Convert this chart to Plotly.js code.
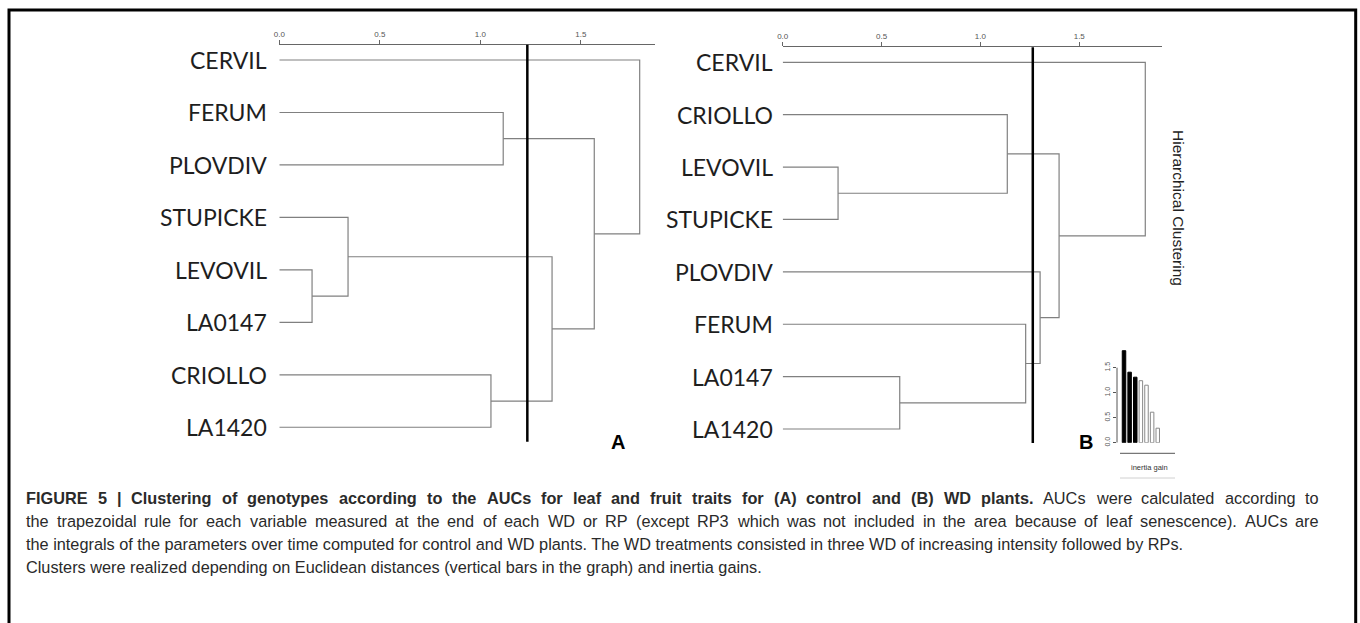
<!DOCTYPE html>
<html><head><meta charset="utf-8">
<script src="https://cdn.plot.ly/plotly-3.0.1.min.js"></script>
<style>html,body{margin:0;padding:0;background:#fff;} #chart{width:1360px;height:623px;}</style>
</head><body><div id="chart"></div>
<script>
// ---------- Panel A (control) ----------
const leavesA = ['CERVIL','FERUM','PLOVDIV','STUPICKE','LEVOVIL','LA0147','CRIOLLO','LA1420'];
// merge table (R style): negative = leaf (1-based, display order), positive = earlier merge
const mergeA_left   = [-5, -4, -7, -2, 2, 4, -1];
const mergeA_right  = [-6,  1, -8, -3, 3, 5,  6];
const mergeA_height = [0.163, 0.342, 1.053, 1.114, 1.357, 1.567, 1.793];
const cutA = 1.234;

// ---------- Panel B (WD) ----------
const leavesB = ['CERVIL','CRIOLLO','LEVOVIL','STUPICKE','PLOVDIV','FERUM','LA0147','LA1420'];
const mergeB_left   = [-3, -7, -2, -6, -5, 3, -1];
const mergeB_right  = [-4, -8,  1,  2,  4, 5,  6];
const mergeB_height = [0.280, 0.592, 1.136, 1.229, 1.302, 1.398, 1.834];
const cutB = 1.265;

// ---------- Inset: inertia gain (panel B) ----------
const inertiaRank = [1, 2, 3, 4, 5, 6, 7];
const inertiaGain = [1.84, 1.41, 1.31, 1.24, 1.15, 0.61, 0.29];
const inertiaHighlighted = [true, true, true, false, false, false, false];

const axisTickVals = [0, 0.5, 1.0, 1.5];
const axisTickText = ['0.0', '0.5', '1.0', '1.5'];

// caption lines
const captionBold = ['FIGURE 5 | Clustering of genotypes according to the AUCs for leaf and fruit traits for (A) control and (B) WD plants.', '', '', ''];
const captionText = [
  'AUCs were calculated according to',
  'the trapezoidal rule for each variable measured at the end of each WD or RP (except RP3 which was not included in the area because of leaf senescence). AUCs are',
  'the integrals of the parameters over time computed for control and WD plants. The WD treatments consisted in three WD of increasing intensity followed by RPs.',
  'Clusters were realized depending on Euclidean distances (vertical bars in the graph) and inertia gains.'
];
const captionJustify = [true, true, false, false];

// ---------- helpers ----------
const W = 1360, H = 623;
const px = x => x / W;
const py = y => 1 - y / H;

function dendro(left, right, height) {
  const pos = {};
  const xs = [], ys = [];
  const node = id => id < 0 ? {x: 0, y: -id - 1} : pos[id];
  for (let i = 0; i < height.length; i++) {
    const a = node(left[i]), b = node(right[i]), h = height[i];
    xs.push(a.x, h, h, b.x, null);
    ys.push(a.y, a.y, b.y, b.y, null);
    pos[i + 1] = {x: h, y: (a.y + b.y) / 2};
  }
  return {xs, ys};
}

const dA = dendro(mergeA_left, mergeA_right, mergeA_height);
const dB = dendro(mergeB_left, mergeB_right, mergeB_height);

const treeLine = {color: '#808080', width: 1.2};

const traces = [
  {type: 'scatter', mode: 'lines', x: dA.xs, y: dA.ys, xaxis: 'x', yaxis: 'y',
   line: treeLine, hoverinfo: 'skip', showlegend: false, cliponaxis: false},
  {type: 'scatter', mode: 'lines', x: dB.xs, y: dB.ys, xaxis: 'x2', yaxis: 'y2',
   line: treeLine, hoverinfo: 'skip', showlegend: false, cliponaxis: false},
  {type: 'bar', x: inertiaRank, y: inertiaGain, xaxis: 'x3', yaxis: 'y3', width: 0.62,
   marker: {color: inertiaHighlighted.map(h => h ? '#000000' : '#ffffff'),
            line: {color: inertiaHighlighted.map(h => h ? '#000000' : '#8a8a8a'), width: 1}},
   hoverinfo: 'skip', showlegend: false}
];

const topAxis = (domain, range, anchor) => ({
  domain, range, anchor, side: 'top',
  tickvals: axisTickVals, ticktext: axisTickText,
  ticks: 'outside', ticklen: 4, tickwidth: 1, tickcolor: '#666',
  tickfont: {family: 'Liberation Sans, Arial, sans-serif', size: 8, color: '#555'},
  showline: true, linecolor: '#666', linewidth: 1,
  showgrid: false, zeroline: false, fixedrange: true
});
const hiddenY = (domain, range) => ({
  domain, range, showline: false, showticklabels: false, ticks: '',
  showgrid: false, zeroline: false, fixedrange: true
});

const annotations = [];
const labelFont = {family: 'Lato, "Open Sans", sans-serif', size: 23, color: '#1e1e1e'};
leavesA.forEach((name, i) => annotations.push({
  text: name, xref: 'paper', x: px(268), xanchor: 'right', yref: 'y', y: i, yanchor: 'middle',
  showarrow: false, font: labelFont, borderpad: 0
}));
leavesB.forEach((name, i) => annotations.push({
  text: name, xref: 'paper', x: px(774), xanchor: 'right', yref: 'y2', y: i, yanchor: 'middle',
  showarrow: false, font: labelFont, borderpad: 0
}));
annotations.push(
  {text: '<b>A</b>', xref: 'paper', yref: 'paper', x: px(617.5), y: py(441.5), xanchor: 'center', yanchor: 'middle',
   showarrow: false, font: {family: 'Liberation Sans, Arial, sans-serif', size: 20, color: '#000'}},
  {text: '<b>B</b>', xref: 'paper', yref: 'paper', x: px(1086), y: py(442), xanchor: 'center', yanchor: 'middle',
   showarrow: false, font: {family: 'Liberation Sans, Arial, sans-serif', size: 20, color: '#000'}},
  {text: 'Hierarchical Clustering', xref: 'paper', yref: 'paper', x: px(1178), y: py(208), textangle: 90,
   xanchor: 'center', yanchor: 'middle', showarrow: false,
   font: {family: 'Liberation Sans, Arial, sans-serif', size: 15.5, color: '#222'}},
  {text: 'inertia gain', xref: 'paper', yref: 'paper', x: px(1149), y: py(467), xanchor: 'center', yanchor: 'middle',
   showarrow: false, font: {family: 'Liberation Sans, Arial, sans-serif', size: 7.5, color: '#333'}}
);

// caption with justified lines (word positions measured with canvas)
const capFamily = 'Liberation Sans';
const capSize = 16.3;
const capLeft = 25, capRight = 1318;
const capY = [498, 521, 544, 567];
const ctx = document.createElement('canvas').getContext('2d');
function wordWidth(w, bold) {
  ctx.font = (bold ? 'bold ' : '') + capSize + 'px "' + capFamily + '"';
  return ctx.measureText(w).width;
}
captionText.forEach((t, i) => {
  const words = [];
  if (captionBold[i]) captionBold[i].split(' ').forEach(w => words.push({w, b: true}));
  t.split(' ').forEach(w => words.push({w, b: false}));
  const capFont = {family: capFamily + ', Arial, sans-serif', size: capSize, color: '#2a2a2a'};
  if (!captionJustify[i]) {
    annotations.push({text: (captionBold[i] ? '<b>' + captionBold[i] + '</b> ' : '') + t,
      xref: 'paper', yref: 'paper', x: px(capLeft), y: py(capY[i]), xanchor: 'left', yanchor: 'middle',
      showarrow: false, align: 'left', font: capFont, borderpad: 0});
    return;
  }
  const widths = words.map(o => wordWidth(o.w, o.b));
  const total = widths.reduce((a, b) => a + b, 0);
  const gap = (capRight - capLeft - total) / (words.length - 1);
  let x = capLeft;
  words.forEach((o, k) => {
    annotations.push({text: o.b ? '<b>' + o.w + '</b>' : o.w,
      xref: 'paper', yref: 'paper', x: px(x), y: py(capY[i]), xanchor: 'left', yanchor: 'middle',
      showarrow: false, font: capFont, borderpad: 0});
    x += widths[k] + gap;
  });
});

const shapes = [
  {type: 'line', xref: 'x', yref: 'y domain', x0: cutA, x1: cutA, y0: 0, y1: 1, line: {color: '#000', width: 2.5}},
  {type: 'line', xref: 'x2', yref: 'y2 domain', x0: cutB, x1: cutB, y0: 0, y1: 1, line: {color: '#000', width: 2.5}},
  {type: 'line', xref: 'x3 domain', yref: 'y3', x0: 0, x1: 0, y0: 0, y1: 1.5, line: {color: '#555', width: 1}},
  {type: 'line', xref: 'paper', yref: 'paper', x0: px(1120), x1: px(1175), y0: py(453.3), y1: py(453.3), line: {color: '#777', width: 1.2}},
  {type: 'line', xref: 'paper', yref: 'paper', x0: px(1120), x1: px(1175), y0: py(478), y1: py(478), line: {color: '#d0d0d0', width: 1}},
  {type: 'rect', xref: 'paper', yref: 'paper', x0: px(9), x1: px(1355.7), y0: py(660), y1: py(10),
   line: {color: '#000', width: 3}, fillcolor: 'rgba(0,0,0,0)'}
];

const layout = {
  width: W, height: H, margin: {l: 0, r: 0, t: 0, b: 0},
  paper_bgcolor: '#fff', plot_bgcolor: 'rgba(0,0,0,0)', showlegend: false,
  xaxis:  topAxis([px(279.3), px(655)], [0, (655 - 279.3) / 201], 'y'),
  yaxis:  hiddenY([py(441.7), py(44.7)], [7.275, -0.292]),
  xaxis2: topAxis([px(782.7), px(1162)], [0, (1162 - 782.7) / 197.7], 'y2'),
  yaxis2: hiddenY([py(443), py(47.3)], [7.267, -0.286]),
  xaxis3: {domain: [px(1117), px(1175)], range: [-0.246, 10.07], anchor: 'y3', visible: false, fixedrange: true},
  yaxis3: {domain: [py(442.7), py(347.7)], range: [0, 1.9], anchor: 'x3',
           tickvals: axisTickVals, ticktext: axisTickText, ticks: 'outside', ticklen: 3, tickcolor: '#555',
           tickangle: -90, tickfont: {family: 'Liberation Sans, Arial, sans-serif', size: 7, color: '#555'},
           showline: false, showgrid: false, zeroline: false, fixedrange: true},
  annotations, shapes
};

Plotly.newPlot('chart', traces, layout, {staticPlot: true, displayModeBar: false});
</script>
</body></html>
